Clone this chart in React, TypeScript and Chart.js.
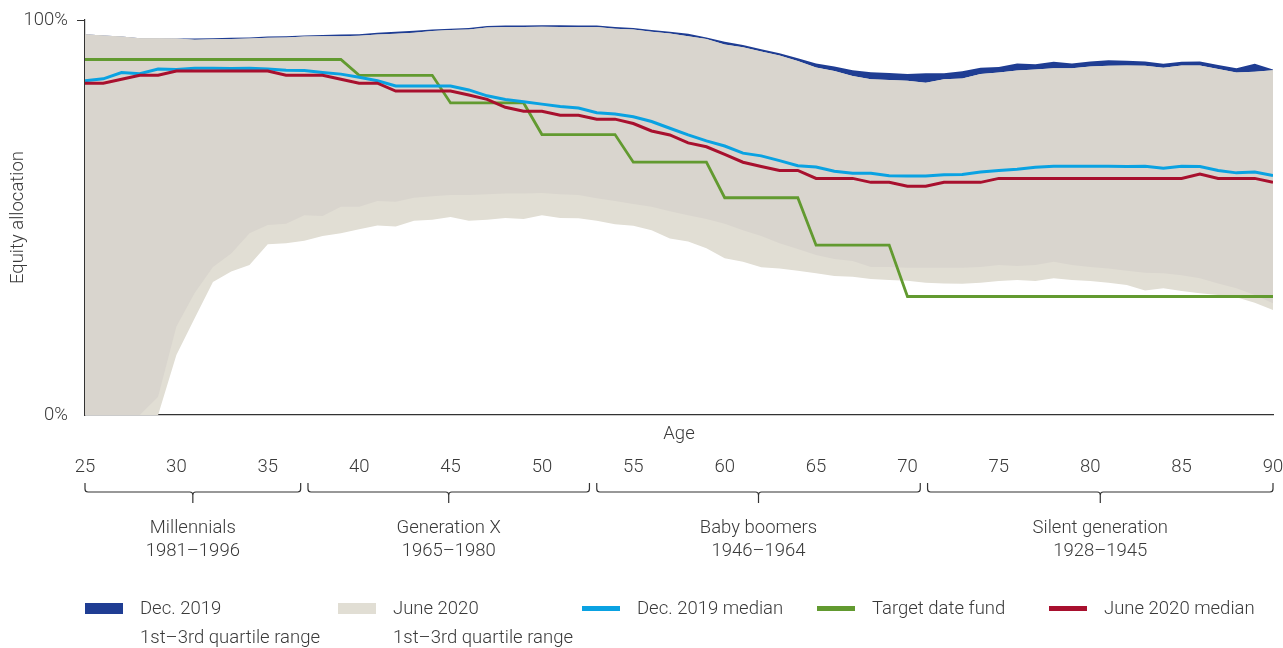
import React, { useEffect, useRef } from "react";
import { Chart, registerables } from "chart.js";

Chart.register(...registerables);

const ages = [25, 26, 27, 28, 29, 30, 31, 32, 33, 34, 35, 36, 37, 38, 39, 40, 41, 42, 43, 44, 45, 46, 47, 48, 49, 50, 51, 52, 53, 54, 55, 56, 57, 58, 59, 60, 61, 62, 63, 64, 65, 66, 67, 68, 69, 70, 71, 72, 73, 74, 75, 76, 77, 78, 79, 80, 81, 82, 83, 84, 85, 86, 87, 88, 89, 90];

const dec2019Q3 = [96.4, 96.1, 95.8, 95.4, 95.4, 95.3, 95.3, 95.4, 95.5, 95.6, 95.8, 95.9, 96.1, 96.2, 96.3, 96.4, 96.8, 97.0, 97.3,
  97.6, 97.8, 98.0, 98.5, 98.6, 98.6, 98.7, 98.7, 98.6, 98.6, 98.2, 98.0, 97.5, 97.0, 96.5, 95.6, 94.5, 93.7, 92.6, 91.6, 90.3, 89.0, 88.2, 87.3,
  86.8, 86.6, 86.3, 86.5, 86.5, 87.0, 87.9, 88.1, 89.0, 88.8, 89.4, 89.0, 89.5, 89.8, 89.7, 89.5, 88.9, 89.4, 89.5, 88.6, 87.8, 88.9, 87.5];

const dec2019Q1 = [0, 0, 0, 0, 4.6, 22.4, 30.9, 37.5, 40.9, 46.0, 48.1, 48.4, 50.6, 50.4, 52.7, 52.7, 54.2, 54.0, 55.0,
  55.4, 55.7, 55.7, 55.9, 56.1, 56.1, 56.2, 55.9, 55.7, 54.9, 54.2, 53.4, 52.7, 51.6, 50.6, 49.6, 48.4, 46.8, 45.3, 43.5, 42.0, 40.5, 39.5, 39.0,
  37.5, 37.5, 37.3, 37.3, 37.3, 37.3, 37.5, 38.0, 37.7, 38.0, 38.8, 38.0, 37.5, 37.1, 36.5, 36.0, 35.9, 35.4, 34.6, 33.3, 32.1, 30.4, 28.3];

const june2020Q3 = [96.4, 96.1, 95.8, 95.4, 95.4, 95.3, 95.0, 95.1, 95.2, 95.3, 95.5, 95.6, 95.8, 95.9, 95.9, 96.0, 96.3, 96.5, 96.8,
  97.2, 97.5, 97.6, 98.1, 98.2, 98.2, 98.3, 98.2, 98.2, 98.2, 97.8, 97.6, 97.0, 96.6, 95.9, 95.2, 93.8, 93.1, 92.0, 91.0, 89.6, 88.0, 87.1, 85.8,
  85.0, 84.8, 84.6, 84.1, 85.0, 85.2, 86.3, 86.7, 87.2, 87.5, 87.8, 87.8, 88.2, 88.4, 88.5, 88.4, 87.9, 88.5, 88.5, 87.6, 86.7, 86.9, 87.3];

const june2020Q1 = [0, 0, 0, 0, 0, 15.2, 24.5, 33.7, 36.3, 38.0, 43.2, 43.5, 44.1, 45.3, 46.0, 47.0, 48.0, 47.7, 49.2,
  49.4, 50.1, 49.2, 49.4, 49.9, 49.6, 50.6, 49.9, 49.8, 49.2, 48.3, 47.9, 46.8, 44.7, 43.9, 42.2, 39.7, 38.8, 37.4, 37.1, 36.5, 35.9, 35.2, 35.0,
  34.4, 34.2, 34.0, 33.5, 33.3, 33.2, 33.5, 33.9, 34.2, 33.9, 34.6, 34.2, 33.9, 33.5, 32.9, 31.5, 32.1, 31.4, 30.8, 30.4, 29.8, 28.4, 26.6];

const dec2019Median = [84.6, 85.1, 86.7, 86.4, 87.6, 87.5, 87.8, 87.8, 87.7, 87.8, 87.6, 87.3, 87.2, 86.7, 86.3, 85.5, 84.6, 83.3, 83.3,
  83.3, 83.3, 82.3, 80.8, 79.9, 79.3, 78.7, 78.1, 77.7, 76.5, 76.2, 75.5, 74.3, 72.6, 70.9, 69.4, 68.1, 66.3, 65.6, 64.4, 63.1, 62.8, 61.7, 61.2,
  61.2, 60.6, 60.5, 60.5, 60.8, 60.9, 61.5, 61.9, 62.2, 62.7, 63.0, 63.0, 63.0, 63.0, 62.9, 63.0, 62.5, 63.0, 62.9, 61.9, 61.3, 61.5, 60.6];

const june2020Median = [84.0, 84.0, 85.0, 86.0, 86.0, 87.1, 87.1, 87.1, 87.1, 87.1, 87.1, 86.0, 86.0, 86.0, 85.0, 84.0, 84.0, 82.0, 82.0,
  82.0, 82.0, 81.0, 79.9, 77.9, 76.9, 76.9, 75.9, 75.9, 74.9, 74.9, 73.8, 71.9, 70.9, 68.9, 67.9, 66.0, 64.0, 62.9, 61.9, 61.9, 59.9, 59.9, 59.9,
  58.9, 58.9, 57.9, 57.9, 58.9, 58.9, 58.9, 59.9, 59.9, 59.9, 59.9, 59.9, 59.9, 59.9, 59.9, 59.9, 59.9, 59.9, 61.0, 59.9, 59.9, 59.9, 58.9];

const targetDateFund = [90, 90, 90, 90, 90, 90, 90, 90, 90, 90, 90, 90, 90, 90, 90, 86, 86, 86, 86, 86, 79, 79, 79, 79, 79,
  71, 71, 71, 71, 71, 64, 64, 64, 64, 64, 55, 55, 55, 55, 55, 43, 43, 43, 43, 43,
  30, 30, 30, 30, 30, 30, 30, 30, 30, 30, 30, 30, 30, 30, 30, 30, 30, 30, 30, 30, 30];

const generationNames = ["Millennials", "Generation X", "Baby boomers", "Silent generation"];
const generationYears = ["1981\u20131996", "1965\u20131980", "1946\u20131964", "1928\u20131945"];
const generationStartAge = [25, 37.2, 53, 71.1];
const generationEndAge = [36.8, 52.6, 70.7, 90];

const FONT = "Roboto, 'Liberation Sans', sans-serif";
const FS = 18.5;
const TEXT = "#3a3a3a";
const COL_BLUE = "#1f3d93";
const COL_OVERLAP = "#d9d5ce";
const COL_JUNE = "#e1ded4";
const COL_CYAN = "#0aa2e2";
const COL_GREEN = "#629a30";
const COL_RED = "#a8102e";

const pts = (arr: number[]) => arr.map((v, i) => ({ x: ages[i], y: v }));

const annotationPlugin = {
  id: "generations",
  afterDraw(chart: any) {
    const { ctx, scales, chartArea } = chart;
    const xs = scales.x;
    ctx.save();
    ctx.fillStyle = TEXT;
    ctx.font = `300 ${FS}px ${FONT}`;
    ctx.textAlign = "center";
    ctx.textBaseline = "middle";
    ctx.fillText("Age", (chartArea.left + chartArea.right) / 2, 434);
    ctx.strokeStyle = "#333";
    ctx.lineWidth = 1.2;
    for (let i = 0; i < generationNames.length; i++) {
      const x0 = xs.getPixelForValue(generationStartAge[i]);
      const x1 = xs.getPixelForValue(generationEndAge[i]);
      const cx = (x0 + x1) / 2;
      const yTop = 483, yH = 492, yTip = 503, r = 3;
      ctx.beginPath();
      ctx.moveTo(x0, yTop);
      ctx.lineTo(x0, yH - r);
      ctx.quadraticCurveTo(x0, yH, x0 + r, yH);
      ctx.lineTo(cx - r, yH);
      ctx.quadraticCurveTo(cx, yH, cx, yH + r);
      ctx.lineTo(cx, yTip);
      ctx.moveTo(cx, yH + r);
      ctx.quadraticCurveTo(cx, yH, cx + r, yH);
      ctx.lineTo(x1 - r, yH);
      ctx.quadraticCurveTo(x1, yH, x1, yH - r);
      ctx.lineTo(x1, yTop);
      ctx.stroke();
      ctx.fillText(generationNames[i], cx, 528);
      ctx.fillText(generationYears[i], cx, 551);
    }
    ctx.restore();
  },
};

function LegendItem(props: { left: number; swatch: React.CSSProperties; label: string; sub?: string }) {
  return (
    <div style={{ position: "absolute", left: props.left, top: 596, height: 52 }}>
      <div style={{ position: "absolute", left: 0, ...props.swatch }} />
      <div style={{ position: "absolute", left: 55, top: 0, whiteSpace: "nowrap", lineHeight: "24px" }}>{props.label}</div>
      {props.sub ? (
        <div style={{ position: "absolute", left: 55, top: 29, whiteSpace: "nowrap", lineHeight: "24px" }}>{props.sub}</div>
      ) : null}
    </div>
  );
}

export default function App() {
  const ref = useRef<HTMLCanvasElement>(null);
  useEffect(() => {
    document.body.style.margin = "0";
    const canvas = ref.current!;
    const noPt = { pointRadius: 0, pointHoverRadius: 0, tension: 0 };
    const chart = new Chart(canvas, {
      type: "line",
      data: {
        datasets: [
          { label: "June 2020 median", data: pts(june2020Median), borderColor: COL_RED, borderWidth: 3, fill: false, ...noPt },
          { label: "Dec. 2019 median", data: pts(dec2019Median), borderColor: COL_CYAN, borderWidth: 3, fill: false, ...noPt },
          { label: "Target date fund", data: pts(targetDateFund), borderColor: COL_GREEN, borderWidth: 2.8, fill: false, ...noPt },
          { label: "overlap", data: pts(june2020Q3), borderWidth: 0, borderColor: "rgba(0,0,0,0)", backgroundColor: COL_OVERLAP, fill: 4, ...noPt },
          { label: "Dec Q1", data: pts(dec2019Q1), borderWidth: 0, borderColor: "rgba(0,0,0,0)", fill: false, ...noPt },
          { label: "June 2020 range", data: pts(june2020Q3), borderWidth: 0, borderColor: "rgba(0,0,0,0)", backgroundColor: COL_JUNE, fill: 6, ...noPt },
          { label: "June Q1", data: pts(june2020Q1), borderWidth: 0, borderColor: "rgba(0,0,0,0)", fill: false, ...noPt },
          { label: "Dec. 2019 range", data: pts(dec2019Q3), borderWidth: 0, borderColor: "rgba(0,0,0,0)", backgroundColor: COL_BLUE, fill: 4, ...noPt },
        ],
      },
      options: {
        animation: false,
        responsive: false,
        layout: { padding: { top: 20, right: 10, left: 0, bottom: 0 } },
        plugins: { legend: { display: false }, tooltip: { enabled: false } },
        scales: {
          x: {
            type: "linear",
            min: 25,
            max: 90,
            border: { display: true, color: "#333", width: 1.2 },
            grid: { display: true, drawOnChartArea: false, drawTicks: false },
            ticks: { stepSize: 5, color: TEXT, font: { family: FONT, size: FS, weight: "300" }, padding: 41, maxRotation: 0 },
            afterFit: (s: any) => { s.height = 233; s.paddingLeft = 0; s.paddingRight = 0; },
          },
          y: {
            min: 0,
            max: 100,
            border: { display: true, color: "#333", width: 1.2 },
            grid: {
              drawOnChartArea: false,
              drawTicks: true,
              tickLength: 8,
              tickColor: (c: any) => (c.tick && c.tick.value === 100 ? "#333" : "rgba(0,0,0,0)"),
            },
            ticks: { stepSize: 100, color: TEXT, font: { family: FONT, size: FS, weight: "300" }, padding: 9, callback: (v: any) => v + "%" },
            title: { display: true, text: "Equity allocation", color: TEXT, font: { family: FONT, size: FS, weight: "300" }, padding: { top: 7, bottom: 0 } },
            afterFit: (s: any) => { s.width = 85; s.paddingTop = 0; s.paddingBottom = 0; },
          },
        },
      },
      plugins: [annotationPlugin],
    } as any);
    return () => chart.destroy();
  }, []);

  return (
    <div style={{ position: "absolute", left: 0, top: 0, width: 1283, height: 648, fontFamily: FONT, fontWeight: 300, fontSize: FS, color: TEXT }}>
      <canvas ref={ref} width={1283} height={648} style={{ position: "absolute", left: 0, top: 0 }} />
      <LegendItem left={85} swatch={{ top: 7, width: 38, height: 11, background: COL_BLUE }} label="Dec. 2019" sub={"1st\u20133rd quartile range"} />
      <LegendItem left={338} swatch={{ top: 7, width: 38, height: 11, background: COL_JUNE }} label="June 2020" sub={"1st\u20133rd quartile range"} />
      <LegendItem left={582} swatch={{ top: 10, width: 38, height: 5, background: COL_CYAN }} label="Dec. 2019 median" />
      <LegendItem left={817} swatch={{ top: 10, width: 38, height: 5, background: COL_GREEN }} label="Target date fund" />
      <LegendItem left={1049} swatch={{ top: 10, width: 38, height: 5, background: COL_RED }} label="June 2020 median" />
    </div>
  );
}
